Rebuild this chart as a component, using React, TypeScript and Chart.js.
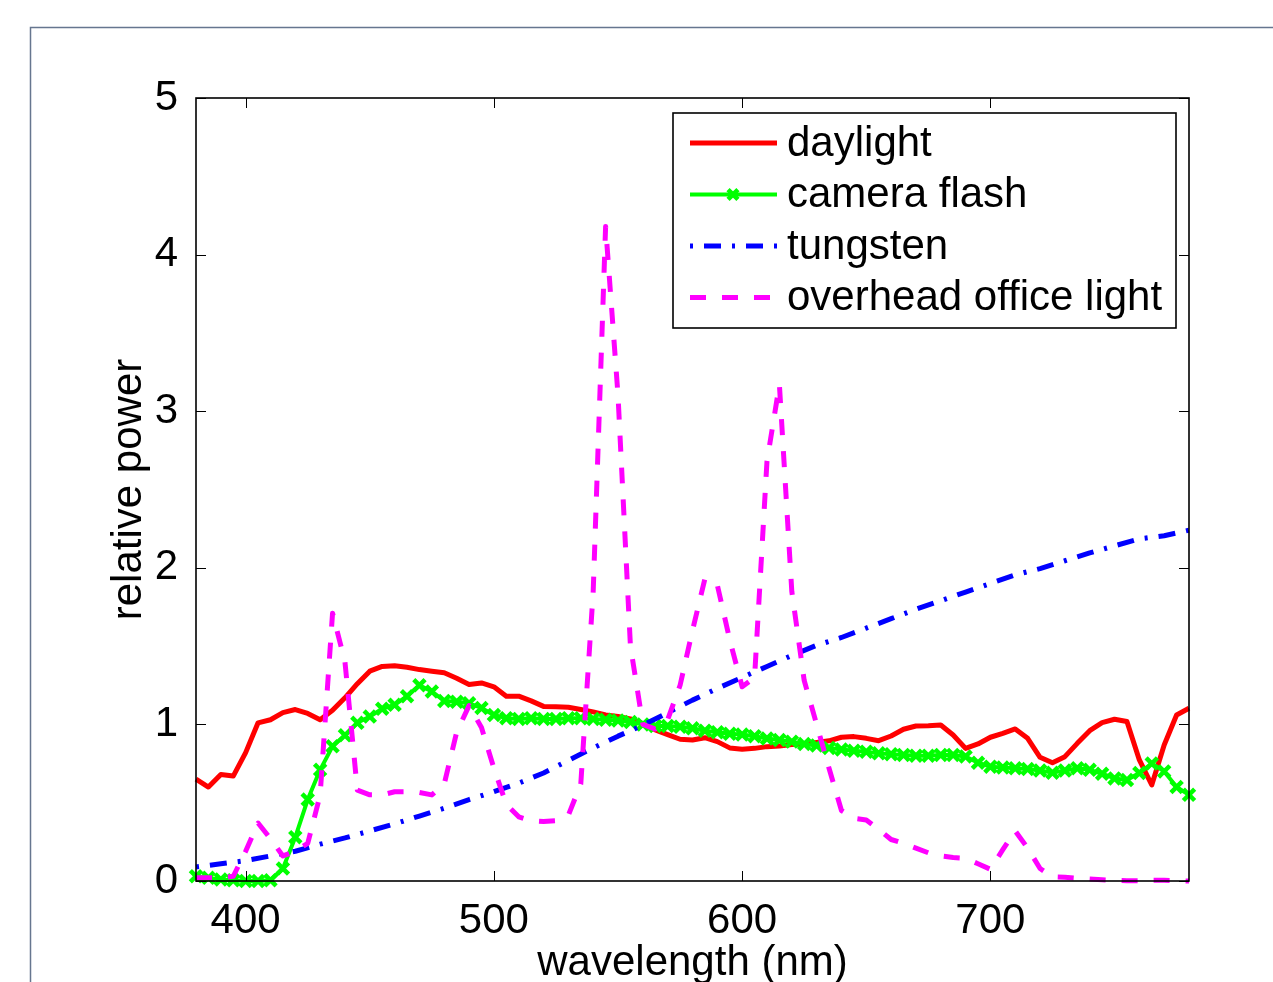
import React, { useEffect, useRef } from 'react';
import { Chart, registerables } from 'chart.js';

Chart.register(...registerables);

const FONT = '"Liberation Sans", Arial, Helvetica, sans-serif';

// wavelength samples (nm)
const nm5 = [
  380, 385, 390, 395, 400, 405, 410, 415, 420, 425,
  430, 435, 440, 445, 450, 455, 460, 465, 470, 475,
  480, 485, 490, 495, 500, 505, 510, 515, 520, 525,
  530, 535, 540, 545, 550, 555, 560, 565, 570, 575,
  580, 585, 590, 595, 600, 605, 610, 615, 620, 625,
  630, 635, 640, 645, 650, 655, 660, 665, 670, 675,
  680, 685, 690, 695, 700, 705, 710, 715, 720, 725,
  730, 735, 740, 745, 750, 755, 760, 765, 770, 775,
  780,
];
const nm10 = [
  380, 390, 400, 410, 420, 430, 440, 450, 460, 470,
  480, 490, 500, 510, 520, 530, 540, 550, 560, 570,
  580, 590, 600, 610, 620, 630, 640, 650, 660, 670,
  680, 690, 700, 710, 720, 730, 740, 750, 760, 770,
  780,
];

const daylight = [
  0.65, 0.60, 0.68, 0.67, 0.82, 1.01, 1.03, 1.075, 1.095, 1.07,
  1.03, 1.09, 1.17, 1.26, 1.34, 1.37, 1.375, 1.365, 1.35, 1.34,
  1.33, 1.295, 1.255, 1.265, 1.24, 1.18, 1.18, 1.15, 1.115, 1.113,
  1.11, 1.095, 1.08, 1.06, 1.05, 1.035, 1.005, 0.965, 0.935, 0.905,
  0.90, 0.915, 0.89, 0.85, 0.842, 0.847, 0.858, 0.862, 0.872, 0.875,
  0.885, 0.895, 0.918, 0.922, 0.911, 0.896, 0.926, 0.969, 0.99, 0.992,
  0.996, 0.932, 0.847, 0.875, 0.918, 0.943, 0.971, 0.911, 0.79, 0.755,
  0.794, 0.879, 0.96, 1.011, 1.033, 1.018, 0.773, 0.613, 0.868, 1.06,
  1.103,
];

const cameraFlash = [
  0.03, 0.02, 0.01, 0.005, 0.0, 0.0, 0.005, 0.08, 0.28, 0.52,
  0.71, 0.86, 0.93, 1.01, 1.05, 1.10, 1.125, 1.18, 1.25, 1.21,
  1.15, 1.145, 1.135, 1.105, 1.06, 1.04, 1.035, 1.04, 1.035, 1.035,
  1.04, 1.04, 1.035, 1.03, 1.025, 1.015, 1.0, 0.99, 0.99, 0.985,
  0.975, 0.96, 0.95, 0.94, 0.935, 0.925, 0.91, 0.90, 0.89, 0.875,
  0.865, 0.85, 0.84, 0.832, 0.826, 0.815, 0.81, 0.805, 0.80, 0.80,
  0.805, 0.805, 0.795, 0.755, 0.73, 0.725, 0.72, 0.715, 0.705, 0.692,
  0.705, 0.72, 0.71, 0.685, 0.655, 0.645, 0.69, 0.75, 0.70, 0.60,
  0.55,
];

const tungsten = [
  0.09, 0.11, 0.13, 0.16, 0.19, 0.235, 0.275, 0.32, 0.365, 0.415,
  0.465, 0.52, 0.57, 0.625, 0.69, 0.77, 0.85, 0.925, 0.995, 1.075,
  1.155, 1.23, 1.30, 1.37, 1.44, 1.505, 1.555, 1.615, 1.675, 1.735,
  1.79, 1.845, 1.90, 1.955, 1.995, 2.045, 2.095, 2.14, 2.185, 2.205,
  2.24,
];

const officeLight = [
  0.02, 0.02, 0.02, 0.03, 0.19, 0.37, 0.27, 0.16, 0.19, 0.24,
  0.55, 1.71, 1.40, 0.58, 0.55, 0.55, 0.57, 0.57, 0.565, 0.55,
  0.62, 0.95, 1.12, 0.98, 0.72, 0.49, 0.41, 0.385, 0.38, 0.385,
  0.42, 0.62, 1.85, 4.18, 3.1, 1.5, 1.0, 0.97, 1.03, 1.25,
  1.6, 1.93, 1.89, 1.54, 1.24, 1.30, 2.68, 3.17, 1.85, 1.28,
  1.0, 0.72, 0.45, 0.40, 0.39, 0.33, 0.265, 0.24, 0.21, 0.18,
  0.16, 0.15, 0.145, 0.11, 0.075, 0.2, 0.32, 0.21, 0.08, 0.027,
  0.024, 0.018, 0.012, 0.008, 0.004, 0.002, 0.002, 0.004, 0.004, 0.002,
  0.0,
];

const xTicks = [400, 500, 600, 700];
const yTicks = [0, 1, 2, 3, 4, 5];
const seriesLabels = ['daylight', 'camera flash', 'tungsten', 'overhead office light'];

const pts = (xs: number[], ys: number[]) => xs.map((x, i) => ({ x, y: ys[i] }));

const drawX = (ctx: CanvasRenderingContext2D, cx: number, cy: number, r: number) => {
  const d = r * Math.SQRT1_2;
  ctx.beginPath();
  ctx.moveTo(cx - d, cy - d);
  ctx.lineTo(cx + d, cy + d);
  ctx.moveTo(cx + d, cy - d);
  ctx.lineTo(cx - d, cy + d);
  ctx.stroke();
};

const matlabAxes = {
  id: 'matlabAxes',
  beforeDraw(chart: any) {
    const ctx = chart.ctx as CanvasRenderingContext2D;
    ctx.save();
    ctx.fillStyle = '#ffffff';
    ctx.fillRect(0, 0, chart.width, chart.height);
    ctx.strokeStyle = '#66768f';
    ctx.lineWidth = 1.5;
    ctx.beginPath();
    ctx.moveTo(30.5, chart.height);
    ctx.lineTo(30.5, 27.5);
    ctx.lineTo(chart.width, 27.5);
    ctx.stroke();
    ctx.restore();
  },
  afterDatasetsDraw(chart: any) {
    const ctx = chart.ctx as CanvasRenderingContext2D;
    const a = chart.chartArea;
    const xs = chart.scales.x;
    const ys = chart.scales.y;
    ctx.save();
    ctx.strokeStyle = '#000';
    ctx.lineWidth = 1;
    ctx.setLineDash([]);
    ctx.beginPath();
    xs.ticks.forEach((t: any) => {
      const px = Math.round(xs.getPixelForValue(t.value)) + 0.5;
      ctx.moveTo(px, a.bottom);
      ctx.lineTo(px, a.bottom - 10);
      ctx.moveTo(px, a.top);
      ctx.lineTo(px, a.top + 10);
    });
    ys.ticks.forEach((t: any) => {
      const py = Math.round(ys.getPixelForValue(t.value)) + 0.5;
      ctx.moveTo(a.left, py);
      ctx.lineTo(a.left + 10, py);
      ctx.moveTo(a.right, py);
      ctx.lineTo(a.right - 10, py);
    });
    ctx.stroke();
    ctx.lineWidth = 1.6;
    ctx.strokeRect(a.left, a.top, a.right - a.left, a.bottom - a.top);

    // legend
    const lx = 673, ly = 113, lw = 503, lh = 215;
    ctx.fillStyle = '#fff';
    ctx.fillRect(lx, ly, lw, lh);
    ctx.lineWidth = 1.6;
    ctx.strokeStyle = '#000';
    ctx.strokeRect(lx, ly, lw, lh);
    const rows = [143, 194.5, 246, 297.5];
    chart.data.datasets.forEach((ds: any, i: number) => {
      const yy = rows[i];
      ctx.save();
      ctx.strokeStyle = ds.borderColor;
      ctx.lineWidth = ds.borderWidth;
      ctx.lineCap = 'butt';
      ctx.setLineDash(ds.borderDash || []);
      ctx.beginPath();
      ctx.moveTo(690, yy);
      ctx.lineTo(777, yy);
      ctx.stroke();
      ctx.setLineDash([]);
      if (ds.pointRadius > 0) {
        ctx.lineWidth = ds.pointBorderWidth;
        drawX(ctx, 733, yy, ds.pointRadius - 1);
      }
      ctx.restore();
      ctx.fillStyle = '#000';
      ctx.font = `42px ${FONT}`;
      ctx.textBaseline = 'middle';
      ctx.textAlign = 'left';
      ctx.fillText(ds.label, 787, yy + 1);
    });
    ctx.restore();
  },
};

export default function App() {
  const ref = useRef<HTMLCanvasElement>(null);

  useEffect(() => {
    if (!ref.current) return;
    Chart.defaults.font.family = FONT;
    const chart = new Chart(ref.current, {
      type: 'line',
      data: {
        datasets: [
          {
            label: seriesLabels[0],
            data: pts(nm5, daylight),
            borderColor: '#ff0000',
            backgroundColor: '#ff0000',
            borderWidth: 5,
            pointRadius: 0,
            order: 4,
          },
          {
            label: seriesLabels[1],
            data: pts(nm5, cameraFlash),
            borderColor: '#00ff00',
            backgroundColor: '#00ff00',
            borderWidth: 4,
            pointStyle: 'crossRot',
            pointRadius: 8,
            pointBorderWidth: 4.5,
            pointBorderColor: '#00ff00',
            order: 3,
          },
          {
            label: seriesLabels[2],
            data: pts(nm10, tungsten),
            borderColor: '#0000ff',
            backgroundColor: '#0000ff',
            borderWidth: 5,
            borderDash: [3, 11, 17, 11],
            pointRadius: 0,
            order: 2,
          },
          {
            label: seriesLabels[3],
            data: pts(nm5, officeLight),
            borderColor: '#ff00ff',
            backgroundColor: '#ff00ff',
            borderWidth: 5,
            borderDash: [16, 16],
            pointRadius: 0,
            order: 1,
          },
        ] as any,
      },
      options: {
        responsive: false,
        devicePixelRatio: 1,
        animation: false,
        clip: false as any,
        elements: {
          line: { tension: 0, borderJoinStyle: 'round', borderCapStyle: 'butt', fill: false },
        },
        layout: { padding: { left: 0, right: 84, top: 98, bottom: 0 } },
        plugins: {
          legend: { display: false },
          tooltip: { enabled: false },
        },
        scales: {
          x: {
            type: 'linear',
            min: 380,
            max: 780,
            afterBuildTicks: (s: any) => {
              s.ticks = xTicks.map((v) => ({ value: v }));
            },
            afterFit: (s: any) => {
              s.height = 101;
            },
            grid: { display: false },
            border: { display: false },
            ticks: {
              color: '#000',
              font: { size: 42, family: FONT },
              padding: 7,
              maxRotation: 0,
            },
            title: {
              display: true,
              text: 'wavelength (nm)',
              color: '#000',
              font: { size: 42, family: FONT, lineHeight: 1 },
              padding: { top: 0, bottom: -2 },
            },
          },
          y: {
            type: 'linear',
            min: 0,
            max: 5,
            afterBuildTicks: (s: any) => {
              s.ticks = yTicks.map((v) => ({ value: v }));
            },
            afterFit: (s: any) => {
              s.width = 196;
            },
            grid: { display: false },
            border: { display: false },
            ticks: {
              color: '#000',
              font: { size: 42, family: FONT },
              padding: 10,
            },
            title: {
              display: true,
              text: 'relative power',
              color: '#000',
              font: { size: 42, family: FONT, lineHeight: 1 },
              padding: { top: 108, bottom: 0 },
            },
          },
        },
      } as any,
      plugins: [matlabAxes],
    });
    return () => chart.destroy();
  }, []);

  return (
    <div style={{ position: 'fixed', left: 0, top: 0, width: 1273, height: 982, background: '#fff' }}>
      <canvas ref={ref} width={1273} height={982} style={{ display: 'block' }} />
    </div>
  );
}
